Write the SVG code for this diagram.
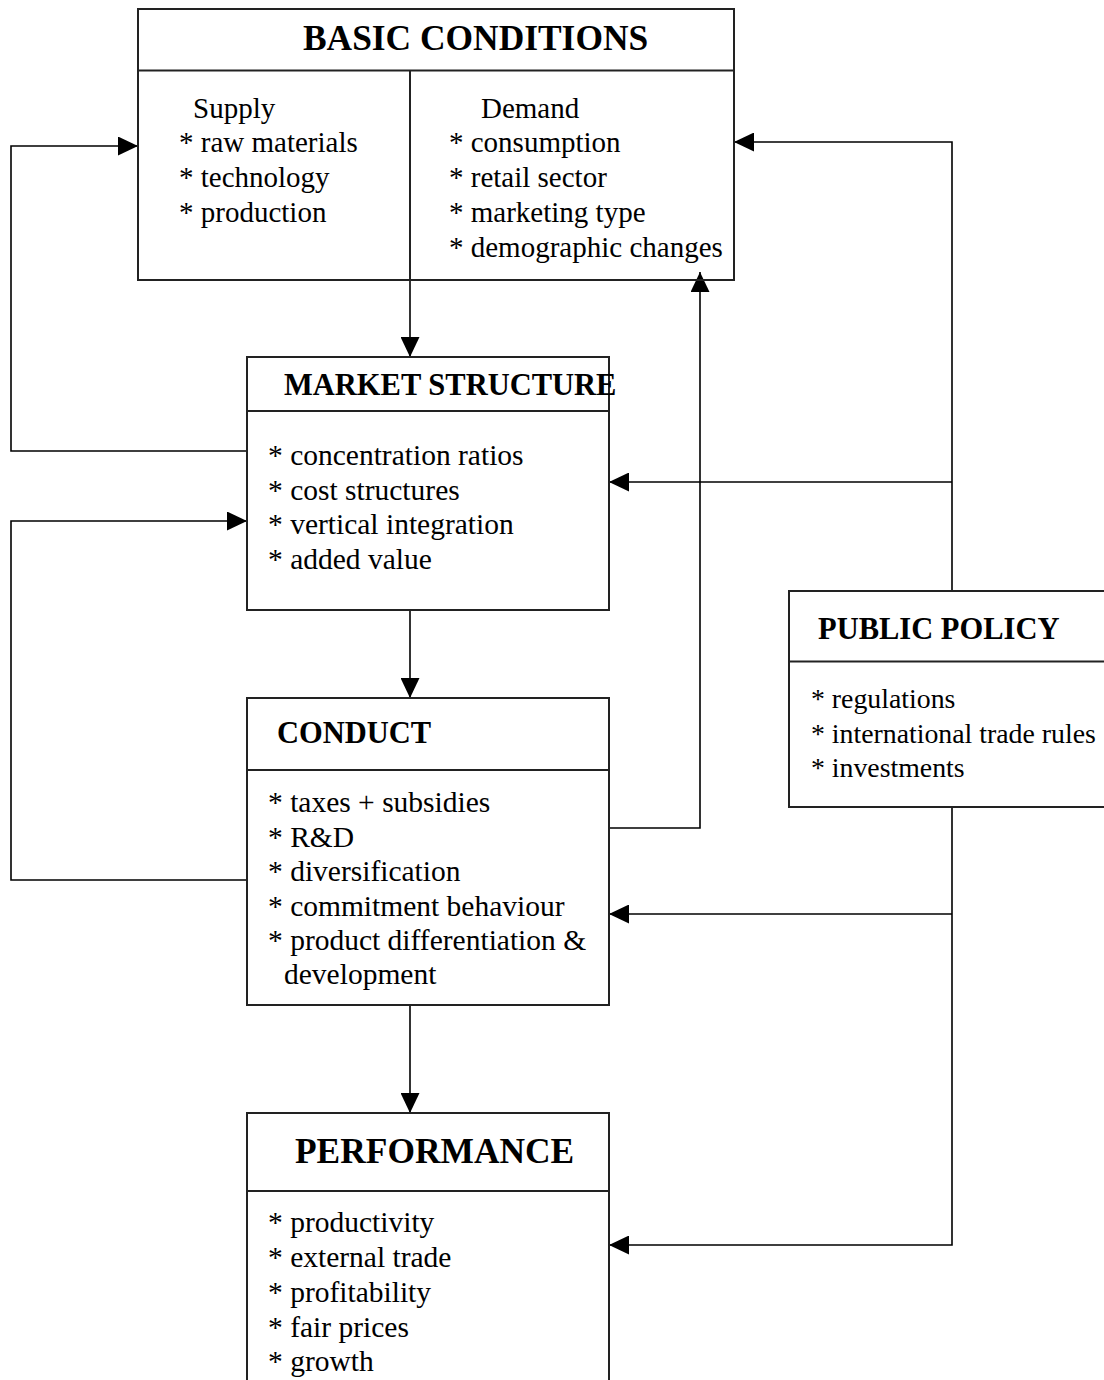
<svg xmlns="http://www.w3.org/2000/svg" width="1104" height="1380" viewBox="0 0 1104 1380">
  <style>
    .box { fill: #fff; stroke: #222; stroke-width: 2; }
    .div { stroke: #222; stroke-width: 2; fill: none; }
    .conn { fill: none; stroke: #000; stroke-width: 1.6; }
    .h35 { font-family: "Liberation Serif", "Times New Roman", serif; font-weight: bold; font-size: 35.4px; fill: #000; }
    .h30 { font-family: "Liberation Serif", "Times New Roman", serif; font-weight: bold; font-size: 30.5px; fill: #000; }
    .t { font-family: "Liberation Serif", "Times New Roman", serif; font-size: 29.5px; fill: #000; }
    .tb { font-family: "Liberation Serif", "Times New Roman", serif; font-size: 29px; fill: #000; }
    .ts { font-family: "Liberation Serif", "Times New Roman", serif; font-size: 27.8px; fill: #000; }
  </style>
  <defs>
    <marker id="arrow" markerUnits="userSpaceOnUse" markerWidth="20" markerHeight="19" refX="20" refY="9.5" orient="auto">
      <path d="M0,0 L20,9.5 L0,19 z" fill="#000"/>
    </marker>
  </defs>
  <rect width="1104" height="1380" fill="#fff"/>

  <!-- connectors -->
  <g id="connectors">
    <polyline class="conn" points="247,451 11,451 11,146 138,146" marker-end="url(#arrow)"/>
    <polyline class="conn" points="247,880 11,880 11,521 247,521" marker-end="url(#arrow)"/>
    <line class="conn" x1="410" y1="280" x2="410" y2="357" marker-end="url(#arrow)"/>
    <line class="conn" x1="410" y1="610" x2="410" y2="698" marker-end="url(#arrow)"/>
    <line class="conn" x1="410" y1="1005" x2="410" y2="1113" marker-end="url(#arrow)"/>
    <polyline class="conn" points="609,828 700,828 700,272" marker-end="url(#arrow)"/>
    <polyline class="conn" points="952,591 952,142 734,142" marker-end="url(#arrow)"/>
    <line class="conn" x1="952" y1="482" x2="609" y2="482" marker-end="url(#arrow)"/>
    <polyline class="conn" points="952,807 952,1245 609,1245" marker-end="url(#arrow)"/>
    <line class="conn" x1="952" y1="914" x2="609" y2="914" marker-end="url(#arrow)"/>
  </g>

  <!-- basic conditions -->
  <g id="basic-conditions">
    <rect class="box" x="138" y="9" width="596" height="271" fill-opacity="0"/>
    <line class="div" x1="138" y1="70.5" x2="734" y2="70.5"/>
    <line class="div" x1="410" y1="70.5" x2="410" y2="280" stroke-width="1.6"/>
    <text class="h35" x="303" y="50">BASIC CONDITIONS</text>
    <text class="tb" x="193" y="118">Supply</text>
    <text class="tb" x="179" y="152">* raw materials</text>
    <text class="tb" x="179" y="187">* technology</text>
    <text class="tb" x="179" y="222">* production</text>
    <text class="tb" x="481" y="118">Demand</text>
    <text class="tb" x="449" y="152">* consumption</text>
    <text class="tb" x="449" y="187">* retail sector</text>
    <text class="tb" x="449" y="222">* marketing type</text>
    <text class="tb" x="449" y="257">* demographic changes</text>
  </g>

  <!-- market structure -->
  <g id="market-structure">
    <rect class="box" x="247" y="357" width="362" height="253"/>
    <line class="div" x1="247" y1="411" x2="609" y2="411"/>
    <text class="h30" x="284" y="395">MARKET STRUCTURE</text>
    <text class="t" x="268" y="465">* concentration ratios</text>
    <text class="t" x="268" y="500">* cost structures</text>
    <text class="t" x="268" y="534">* vertical integration</text>
    <text class="t" x="268" y="569">* added value</text>
  </g>

  <!-- conduct -->
  <g id="conduct">
    <rect class="box" x="247" y="698" width="362" height="307"/>
    <line class="div" x1="247" y1="770" x2="609" y2="770"/>
    <text class="h30" x="277" y="743">CONDUCT</text>
    <text class="t" x="268" y="812">* taxes + subsidies</text>
    <text class="t" x="268" y="847">* R&amp;D</text>
    <text class="t" x="268" y="881">* diversification</text>
    <text class="t" x="268" y="916">* commitment behaviour</text>
    <text class="t" x="268" y="950">* product differentiation &amp;</text>
    <text class="t" x="284" y="984">development</text>
  </g>

  <!-- performance -->
  <g id="performance">
    <rect class="box" x="247" y="1113" width="362" height="300"/>
    <line class="div" x1="247" y1="1191" x2="609" y2="1191"/>
    <text class="h35" x="295" y="1163">PERFORMANCE</text>
    <text class="t" x="268" y="1232">* productivity</text>
    <text class="t" x="268" y="1267">* external trade</text>
    <text class="t" x="268" y="1302">* profitability</text>
    <text class="t" x="268" y="1337">* fair prices</text>
    <text class="t" x="268" y="1371">* growth</text>
  </g>

  <!-- public policy -->
  <g id="public-policy">
    <rect class="box" x="789" y="591" width="330" height="216"/>
    <line class="div" x1="789" y1="661.5" x2="1119" y2="661.5"/>
    <text class="h30" x="818" y="639">PUBLIC POLICY</text>
    <text class="ts" x="811" y="708">* regulations</text>
    <text class="ts" x="811" y="743">* international trade rules</text>
    <text class="ts" x="811" y="777">* investments</text>
  </g>
</svg>
